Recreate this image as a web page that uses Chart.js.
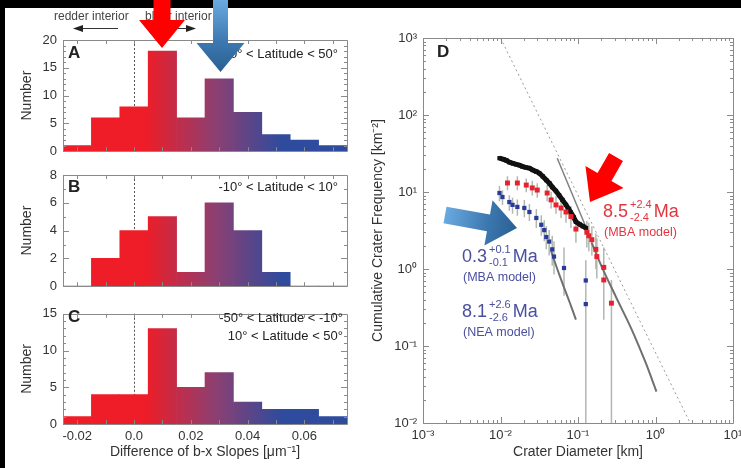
<!DOCTYPE html>
<html>
<head>
<meta charset="utf-8">
<script src="https://cdn.jsdelivr.net/npm/chart.js@4.4.0/dist/chart.umd.min.js"></script>
<style>
  html, body { margin: 0; padding: 0; background: #000; }
  #fig { position: relative; width: 741px; height: 468px; overflow: hidden; background: #000; }
  #paper { position: absolute; left: 5px; top: 8px; right: 0; bottom: 0; background: #fff; }
  canvas { position: absolute; }
</style>
</head>
<body>
<div id="fig">
  <div id="paper"></div>
  <canvas id="histC" width="360" height="168" style="left:0;top:300px"></canvas>
  <canvas id="histB" width="360" height="140" style="left:0;top:160px"></canvas>
  <canvas id="histA" width="360" height="165" style="left:0;top:0"></canvas>
  <canvas id="craters" width="400" height="468" style="left:370px;top:0"></canvas>
</div>
<script>
// histogram panels A-C: bin centres (bin width 0.01) and counts
const binCenters = [-0.02, -0.01, 0.0, 0.01, 0.02, 0.03, 0.04, 0.05, 0.06, 0.07];
const countsA = [1, 6, 8, 18, 6, 13, 7, 3, 2, 1];
const countsB = [0, 2, 4, 5, 1, 6, 4, 1, 0, 0];
const countsC = [1, 4, 4, 13, 5, 7, 3, 2, 2, 1];

const slopeTicks = [-0.02, 0.0, 0.02, 0.04, 0.06];
const slopeTickLabels = ['-0.02', '0.0', '0.02', '0.04', '0.06'];
const slopeMarks = [-0.02, -0.01, 0.0, 0.01, 0.02, 0.03, 0.04, 0.05, 0.06, 0.07];
const yTicksA = [0, 5, 10, 15, 20];
const yTicksB = [0, 2, 4, 6, 8];
const yTicksC = [0, 5, 10, 15];

// panel D: cumulative crater frequency
const blackD = [0.0097, 0.011, 0.012, 0.013, 0.0145, 0.016, 0.0175, 0.019, 0.021, 0.0236, 0.026, 0.029, 0.0316, 0.035, 0.0389, 0.043, 0.0465, 0.052, 0.057, 0.063, 0.070, 0.076, 0.081, 0.088, 0.094, 0.105, 0.115, 0.127];
const blackF = [27.5, 26.5, 25.6, 24.4, 23.5, 22.8, 22.3, 21.5, 20.9, 20.4, 19.3, 18.4, 17.6, 16.0, 14.3, 12.9, 11.6, 10.3, 9.1, 7.9, 6.8, 6.0, 5.4, 4.7, 4.1, 3.8, 3.6, 3.4];

const redD = [0.0123, 0.0165, 0.0215, 0.0257, 0.0298, 0.040, 0.045, 0.052, 0.0605, 0.070, 0.081, 0.094, 0.13, 0.138, 0.151, 0.17, 0.175, 0.215, 0.215, 0.27];
const redF = [13.1, 13.1, 12.3, 11.3, 10.6, 9.7, 7.9, 6.8, 6.2, 5.5, 4.8, 3.3, 3.0, 2.7, 2.4, 1.8, 1.45, 1.05, 0.72, 0.36];
const redLo = [10.5, 10.5, 9.9, 9.0, 8.4, 7.6, 6.1, 5.2, 4.6, 4.0, 3.4, 2.2, 1.9, 1.7, 1.5, 1.0, 0.75, 0.45, 0.22, 0.01];
const redHi = [16, 16, 15, 14, 13, 12.3, 10.1, 8.8, 8.2, 7.3, 6.6, 4.6, 4.2, 4.0, 3.6, 2.9, 2.5, 1.9, 1.2, 0.72];

const blueD = [0.0097, 0.0106, 0.013, 0.0143, 0.0165, 0.0203, 0.0236, 0.029, 0.0336, 0.0367, 0.039, 0.0425, 0.0465, 0.049, 0.066, 0.126, 0.126];
const blueF = [9.7, 8.6, 7.4, 6.8, 6.4, 6.2, 5.5, 4.6, 3.75, 3.2, 2.6, 2.27, 1.8, 1.45, 1.03, 0.71, 0.35];
const blueLo = [7.6, 6.8, 5.7, 5.2, 4.9, 4.7, 4.2, 3.4, 2.7, 2.3, 1.8, 1.5, 1.1, 0.85, 0.45, 0.01, 0.01];
const blueHi = [12, 10.5, 9.1, 8.4, 8.0, 7.9, 7.0, 6.0, 5.0, 4.3, 3.6, 3.2, 2.7, 2.3, 1.9, 1.3, 0.75];

// model isochrons
const blackModelD = [0.054, 0.128];
const blackModelF = [27.5, 3.4];
const blueModelD = [0.045, 0.055, 0.065, 0.078, 0.094];
const blueModelF = [1.7, 0.95, 0.6, 0.37, 0.22];
const redModelD = [0.15, 0.2, 0.307, 0.49, 0.74, 1.03];
const redModelF = [2.2, 1.1, 0.44, 0.166, 0.062, 0.0255];
const saturationD = [0.01, 2.8];
const saturationF = [1000, 0.01];

const diamTicks = [0.001, 0.01, 0.1, 1, 10];
const diamTickLabels = ['10⁻³', '10⁻²', '10⁻¹', '10⁰', '10¹'];
const freqTicks = [0.01, 0.1, 1, 10, 100, 1000];
const freqTickLabels = ['10⁻²', '10⁻¹', '10⁰', '10¹', '10²', '10³'];

const FONT = "'Liberation Sans', Arial, Helvetica, sans-serif";
const TXT = '#333';
Chart.defaults.font.family = FONT;
Chart.defaults.color = TXT;
Chart.defaults.animation = false;
Chart.defaults.plugins.legend.display = false;
Chart.defaults.plugins.tooltip.enabled = false;

const pts = (xs, ys) => xs.map((x, i) => ({ x: x, y: ys[i] }));

// frame box + inward ticks on all four sides
const frameLines = {
  id: 'frameLines',
  afterDatasetsDraw(chart, args, o) {
    const { ctx, chartArea: a } = chart;
    const xs = chart.scales.x, ys = chart.scales.y;
    ctx.save();
    ctx.strokeStyle = '#8a8a8a';
    ctx.lineWidth = 1;
    ctx.beginPath();
    ctx.rect(Math.round(a.left) + 0.5, Math.round(a.top) + 0.5, Math.round(a.right - a.left), Math.round(a.bottom - a.top));
    (o.xMarks || []).forEach(([v, len]) => {
      const p = Math.round(xs.getPixelForValue(v)) + 0.5;
      ctx.moveTo(p, a.bottom); ctx.lineTo(p, a.bottom - len);
      ctx.moveTo(p, a.top); ctx.lineTo(p, a.top + len);
    });
    (o.yMarks || []).forEach(([v, len]) => {
      const p = Math.round(ys.getPixelForValue(v)) + 0.5;
      ctx.moveTo(a.left, p); ctx.lineTo(a.left + len, p);
      ctx.moveTo(a.right, p); ctx.lineTo(a.right - len, p);
    });
    ctx.stroke();
    ctx.restore();
  }
};

// dotted line at zero slope difference
const zeroLine = {
  id: 'zeroLine',
  beforeDatasetsDraw(chart, args, o) {
    if (!o.display) return;
    const { ctx, chartArea: a } = chart;
    const p = Math.round(chart.scales.x.getPixelForValue(0)) + 0.5;
    ctx.save();
    ctx.strokeStyle = '#555';
    ctx.setLineDash([2, 2]);
    ctx.beginPath();
    ctx.moveTo(p, a.top); ctx.lineTo(p, a.bottom);
    ctx.stroke();
    ctx.restore();
  }
};

// panel letters and notes
const panelText = {
  id: 'panelText',
  afterDraw(chart, args, o) {
    const ctx = chart.ctx;
    ctx.save();
    ctx.textBaseline = 'middle';
    (o.items || []).forEach(t => {
      ctx.font = (t.bold ? 'bold ' : '') + t.size + 'px ' + FONT;
      ctx.fillStyle = t.color || '#222';
      ctx.textAlign = t.align || 'left';
      ctx.fillText(t.text, t.x, t.y);
    });
    ctx.restore();
  }
};

function drawArrow(ctx, tail, tip, shaftHalf, headHalf, headLen, fill) {
  const dx = tip[0] - tail[0], dy = tip[1] - tail[1];
  const len = Math.hypot(dx, dy);
  const ux = dx / len, uy = dy / len, nx = -uy, ny = ux;
  const bx = tip[0] - ux * headLen, by = tip[1] - uy * headLen;
  ctx.beginPath();
  ctx.moveTo(tail[0] + nx * shaftHalf, tail[1] + ny * shaftHalf);
  ctx.lineTo(bx + nx * shaftHalf, by + ny * shaftHalf);
  ctx.lineTo(bx + nx * headHalf, by + ny * headHalf);
  ctx.lineTo(tip[0], tip[1]);
  ctx.lineTo(bx - nx * headHalf, by - ny * headHalf);
  ctx.lineTo(bx - nx * shaftHalf, by - ny * shaftHalf);
  ctx.lineTo(tail[0] - nx * shaftHalf, tail[1] - ny * shaftHalf);
  ctx.closePath();
  ctx.fillStyle = fill;
  ctx.fill();
}

function blueGrad(ctx, from, to) {
  const g = ctx.createLinearGradient(from[0], from[1], to[0], to[1]);
  g.addColorStop(0, '#6aaae0');
  g.addColorStop(0.6, '#3b77ae');
  g.addColorStop(1, '#2b5f93');
  return g;
}

// top-of-figure legend and the two pointer arrows over panel A
const topMarks = {
  id: 'topMarks',
  afterDraw(chart) {
    const ctx = chart.ctx;
    ctx.save();
    ctx.font = '12px ' + FONT;
    ctx.fillStyle = '#444';
    ctx.textBaseline = 'middle';
    ctx.textAlign = 'left';
    ctx.fillText('redder interior', 54, 17);
    ctx.fillText('bluer interior', 145, 17);
    ctx.strokeStyle = '#333';
    ctx.lineWidth = 1;
    ctx.beginPath();
    ctx.moveTo(118, 28.5); ctx.lineTo(80, 28.5);
    ctx.moveTo(150, 28.5); ctx.lineTo(188, 28.5);
    ctx.stroke();
    ctx.fillStyle = '#222';
    ctx.beginPath();
    ctx.moveTo(73, 28.5); ctx.lineTo(83, 25); ctx.lineTo(83, 32); ctx.closePath();
    ctx.moveTo(196, 28.5); ctx.lineTo(186, 25); ctx.lineTo(186, 32); ctx.closePath();
    ctx.fill();
    drawArrow(ctx, [162, -2], [162, 48], 8.5, 23, 28, '#ff0000');
    drawArrow(ctx, [220.5, -2], [220.5, 72], 7.5, 24, 29, blueGrad(ctx, [220, 0], [220, 72]));
    ctx.restore();
  }
};

function histFill(context) {
  const chart = context.chart;
  if (!chart.chartArea) return '#e8202a';
  const xs = chart.scales.x;
  const g = chart.ctx.createLinearGradient(xs.getPixelForValue(0.004), 0, xs.getPixelForValue(0.052), 0);
  g.addColorStop(0, '#ee1d27');
  g.addColorStop(0.5, '#8f3f70');
  g.addColorStop(1, '#2e4b9e');
  return g;
}

function yMarks(max, major) {
  const m = [];
  for (let v = 0; v <= max; v++) m.push([v, v % major === 0 ? 6 : 3]);
  return m;
}

function makeHist(id, counts, yTicks, geo, items, extraPlugins) {
  const yMax = yTicks[yTicks.length - 1];
  return new Chart(document.getElementById(id), {
    type: 'bar',
    data: {
      datasets: [{
        data: pts(binCenters, counts),
        backgroundColor: histFill,
        borderWidth: 0,
        barPercentage: 1,
        categoryPercentage: 1
      }]
    },
    options: {
      responsive: false,
      layout: { autoPadding: false, padding: { top: geo.top, right: 13, bottom: 0, left: 0 } },
      scales: {
        x: {
          type: 'linear', min: -0.025, max: 0.075, offset: false,
          grid: { display: false, drawTicks: false }, border: { display: false },
          afterBuildTicks: s => { s.ticks = slopeTicks.map(v => ({ value: v })); },
          ticks: {
            display: geo.showX, autoSkip: false, maxRotation: 0, padding: 5,
            font: { size: 13 }, color: TXT,
            callback: (v, i) => slopeTickLabels[i]
          },
          title: {
            display: geo.showX, text: 'Difference of b-x Slopes [μm⁻¹]',
            font: { size: 14 }, color: TXT, padding: { top: 0, bottom: 7 }
          },
          afterFit: s => { s.height = geo.xh; }
        },
        y: {
          min: 0, max: yMax,
          grid: { display: false, drawTicks: false }, border: { display: false },
          afterBuildTicks: s => { s.ticks = yTicks.map(v => ({ value: v })); },
          ticks: { padding: 6, font: { size: 13 }, color: TXT, callback: (v, i) => String(yTicks[i]) },
          title: { display: true, text: 'Number', font: { size: 14 }, color: TXT, padding: { top: 19, bottom: 0 } },
          afterFit: s => { s.width = 63; }
        }
      },
      plugins: {
        frameLines: { xMarks: slopeMarks.map(v => [v, 4]), yMarks: yMarks(yMax, yTicks[1]) },
        zeroLine: { display: true },
        panelText: { items: items }
      }
    },
    plugins: [zeroLine, frameLines, panelText].concat(extraPlugins || [])
  });
}

makeHist('histA', countsA, yTicksA, { top: 40, xh: 8, showX: false }, [
  { text: 'A', x: 68, y: 53, size: 17, bold: true },
  { text: '-50° < Latitude < 50°', x: 338, y: 54, size: 13, align: 'right' }
], [topMarks]);

makeHist('histB', countsB, yTicksB, { top: 15, xh: 8, showX: false }, [
  { text: 'B', x: 68, y: 27, size: 17, bold: true },
  { text: '-10° < Latitude < 10°', x: 338, y: 27, size: 13, align: 'right' }
]);

makeHist('histC', countsC, yTicksC, { top: 7, xh: 44, showX: true }, [
  { text: 'C', x: 68, y: 17, size: 17, bold: true },
  { text: '-50° < Latitude < -10°', x: 343, y: 18, size: 13, align: 'right' },
  { text: '10° < Latitude < 50°', x: 343, y: 36, size: 13, align: 'right' }
]);

// ---- panel D ----
const errorBars = {
  id: 'errorBars',
  beforeDatasetsDraw(chart) {
    const { ctx } = chart;
    const xs = chart.scales.x, ys = chart.scales.y;
    const sets = [[redD, redLo, redHi], [blueD, blueLo, blueHi]];
    ctx.save();
    ctx.strokeStyle = 'rgba(150,160,150,0.75)';
    ctx.lineWidth = 1.5;
    ctx.beginPath();
    sets.forEach(([d, lo, hi]) => {
      d.forEach((v, i) => {
        const p = xs.getPixelForValue(v);
        ctx.moveTo(p, ys.getPixelForValue(lo[i]));
        ctx.lineTo(p, ys.getPixelForValue(hi[i]));
      });
    });
    ctx.stroke();
    ctx.restore();
  }
};

function drawAge(ctx, x, y, main, sup, sub, unit, model, color) {
  ctx.fillStyle = color;
  ctx.textBaseline = 'middle';
  ctx.textAlign = 'left';
  ctx.font = '18px ' + FONT;
  ctx.fillText(main, x, y);
  let cx = x + ctx.measureText(main).width + 2;
  ctx.font = '11px ' + FONT;
  ctx.fillText(sup, cx, y - 7);
  ctx.fillText(sub, cx, y + 6);
  cx += Math.max(ctx.measureText(sup).width, ctx.measureText(sub).width) + 2;
  ctx.font = '18px ' + FONT;
  ctx.fillText(unit, cx, y);
  ctx.font = '12.5px ' + FONT;
  ctx.fillText(model, x + 1, y + 21);
}

const craterNotes = {
  id: 'craterNotes',
  afterDraw(chart) {
    const ctx = chart.ctx;
    ctx.save();
    ctx.font = 'bold 17px ' + FONT;
    ctx.fillStyle = '#222';
    ctx.textBaseline = 'middle';
    ctx.fillText('D', 67, 52);
    drawAge(ctx, 233, 212, '8.5', '+2.4', '-2.4', 'Ma', '(MBA model)', '#e2363f');
    drawAge(ctx, 92, 257, '0.3', '+0.1', '-0.1', 'Ma', '(MBA model)', '#4a4f9f');
    drawAge(ctx, 92, 312, '8.1', '+2.6', '-2.6', 'Ma', '(NEA model)', '#4a4f9f');
    drawArrow(ctx, [246, 157], [220, 202], 8, 22, 29, '#ff0000');
    drawArrow(ctx, [75, 215], [147, 228], 8.5, 23, 29, blueGrad(ctx, [75, 215], [147, 228]));
    ctx.restore();
  }
};

function logMarks(lo, hi) {
  const m = [];
  for (let e = lo; e < hi; e++) {
    for (let k = 1; k <= 9; k++) m.push([k * Math.pow(10, e), k === 1 ? 6 : 3]);
  }
  m.push([Math.pow(10, hi), 6]);
  return m;
}

new Chart(document.getElementById('craters'), {
  type: 'scatter',
  data: {
    datasets: [
      { data: pts(blueD, blueF), pointStyle: 'rect', pointRadius: 3, backgroundColor: '#2a3a9a', borderWidth: 0 },
      { data: pts(redD, redF), pointStyle: 'rect', pointRadius: 3.5, backgroundColor: '#e8212e', borderWidth: 0 },
      { data: pts(blackD, blackF), showLine: true, borderColor: '#111', borderWidth: 5, pointStyle: 'rect', pointRadius: 3, backgroundColor: '#111', pointBorderWidth: 0 },
      { data: pts(blueModelD, blueModelF), showLine: true, borderColor: '#707070', borderWidth: 2, pointRadius: 0, tension: 0.3 },
      { data: pts(redModelD, redModelF), showLine: true, borderColor: '#707070', borderWidth: 2, pointRadius: 0, tension: 0.3 },
      { data: pts(blackModelD, blackModelF), showLine: true, borderColor: '#808080', borderWidth: 1.5, pointRadius: 0 },
      { data: pts(saturationD, saturationF), showLine: true, borderColor: '#999', borderWidth: 1, borderDash: [2, 3], pointRadius: 0 }
    ]
  },
  options: {
    responsive: false,
    layout: { autoPadding: false, padding: { top: 38, right: 37, bottom: 0, left: 0 } },
    scales: {
      x: {
        type: 'logarithmic', min: 0.001, max: 10,
        grid: { display: false, drawTicks: false }, border: { display: false },
        afterBuildTicks: s => { s.ticks = diamTicks.map(v => ({ value: v, major: true })); },
        ticks: { autoSkip: false, maxRotation: 0, padding: 5, font: { size: 13 }, color: TXT, callback: (v, i) => diamTickLabels[i] },
        title: { display: true, text: 'Crater Diameter [km]', font: { size: 14 }, color: TXT, padding: { top: 0, bottom: 7 } },
        afterFit: s => { s.height = 45; }
      },
      y: {
        type: 'logarithmic', min: 0.01, max: 1000,
        grid: { display: false, drawTicks: false }, border: { display: false },
        afterBuildTicks: s => { s.ticks = freqTicks.map(v => ({ value: v, major: true })); },
        ticks: { autoSkip: false, padding: 6, font: { size: 13 }, color: TXT, callback: (v, i) => freqTickLabels[i] },
        title: { display: true, text: 'Cumulative Crater Frequency [km⁻²]', font: { size: 14 }, color: TXT, padding: { top: 0, bottom: 0 } },
        afterFit: s => { s.width = 53; }
      }
    },
    plugins: {
      frameLines: { xMarks: logMarks(-3, 1), yMarks: logMarks(-2, 3) }
    }
  },
  plugins: [errorBars, frameLines, craterNotes]
});
</script>
</body>
</html>
